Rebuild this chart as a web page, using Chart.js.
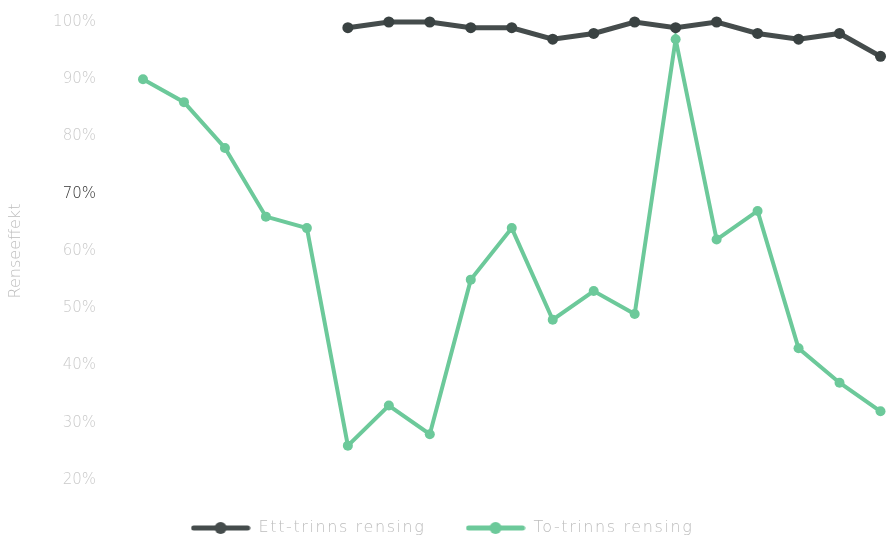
<!DOCTYPE html>
<html>
<head>
<meta charset="utf-8">
<script src="https://cdn.jsdelivr.net/npm/chart.js@4/dist/chart.umd.min.js"></script>
<style>
  html, body { margin: 0; padding: 0; background: #fff; }
  #wrap { width: 886px; height: 539px; position: relative; }
</style>
</head>
<body>
<div id="wrap"><canvas id="c"></canvas></div>
<script>
const labels = ['1','2','3','4','5','6','7','8','9','10','11','12','13','14','15','16','17','18','19'];
const ettTrinn = [null, null, null, null, null, 99, 100, 100, 99, 99, 97, 98, 100, 99, 100, 98, 97, 98, 94];
const toTrinn = [90, 86, 78, 66, 64, 26, 33, 28, 55, 64, 48, 53, 49, 97, 62, 67, 43, 37, 32];
const yTicks = [20, 30, 40, 50, 60, 70, 80, 90, 100];

const dark = '#454c4c';
const green = '#6cc99a';
const textGray = '#bdbdbd';

function legendIcon(color) {
  const cv = document.createElement('canvas');
  cv.width = 60; cv.height = 14;
  const g = cv.getContext('2d');
  g.strokeStyle = color; g.lineWidth = 5; g.lineCap = 'round';
  g.beginPath(); g.moveTo(3, 7); g.lineTo(57, 7); g.stroke();
  g.fillStyle = color;
  g.beginPath(); g.arc(30, 7, 6, 0, Math.PI * 2); g.fill();
  return cv;
}

// legend: wide item gap but sits low, and a bit of letter spacing like the original
const legendTweak = {
  id: 'legendTweak',
  beforeInit(chart) {
    const lg = chart.legend;
    const fit = lg.fit, draw = lg.draw;
    lg.fit = function () {
      this.ctx.letterSpacing = '1.6px';
      fit.call(this);
      this.ctx.letterSpacing = '0px';
      this.height = 59;
    };
    lg.draw = function () {
      this.ctx.letterSpacing = '1.6px';
      draw.call(this);
      this.ctx.letterSpacing = '0px';
    };
  }
};

new Chart(document.getElementById('c'), {
  type: 'line',
  data: {
    labels: labels,
    datasets: [
      {
        label: 'Ett-trinns rensing',
        data: ettTrinn,
        borderColor: dark,
        backgroundColor: dark,
        borderWidth: 5,
        pointRadius: 5.5,
        pointBackgroundColor: '#3a4242',
        pointBorderWidth: 0,
        tension: 0,
        clip: false
      },
      {
        label: 'To-trinns rensing',
        data: toTrinn,
        borderColor: green,
        backgroundColor: green,
        borderWidth: 4,
        pointRadius: 5,
        pointBackgroundColor: green,
        pointBorderWidth: 0,
        tension: 0,
        clip: false
      }
    ]
  },
  options: {
    responsive: true,
    maintainAspectRatio: false,
    animation: false,
    layout: { padding: { top: 22, right: 2, bottom: 0, left: 0 } },
    plugins: {
      legend: {
        position: 'bottom',
        align: 'center',
        labels: {
          color: textGray,
          font: { family: 'DejaVu Sans', size: 16, weight: '200' },
          usePointStyle: true,
          pointStyleWidth: 60,
          boxHeight: 14,
          padding: 40,
          generateLabels(chart) {
            return chart.data.datasets.map((ds, i) => ({
              text: ds.label,
              fillStyle: ds.borderColor,
              strokeStyle: ds.borderColor,
              lineWidth: 0,
              pointStyle: legendIcon(ds.borderColor),
              datasetIndex: i,
              fontColor: textGray
            }));
          }
        }
      },
      tooltip: { enabled: false }
    },
    scales: {
      x: {
        display: false,
        offset: false
      },
      y: {
        min: 20,
        max: 100,
        afterFit(scale) { scale.width = 143; },
        grid: { display: false, tickLength: 47 },
        border: { display: false },
        afterBuildTicks(scale) { scale.ticks = yTicks.map(v => ({ value: v })); },
        ticks: {
          padding: 0,
          color: ctx => ctx.tick.value === 70 ? '#333' : '#cacaca',
          font: { family: 'DejaVu Sans', size: 15, weight: '200' },
          callback: v => v + '%'
        },
        title: {
          display: true,
          text: 'Renseeffekt',
          color: textGray,
          font: { family: 'DejaVu Sans', size: 16, weight: '200' },
          padding: { top: 6, bottom: 0 }
        }
      }
    }
  },
  plugins: [legendTweak]
});
</script>
</body>
</html>
